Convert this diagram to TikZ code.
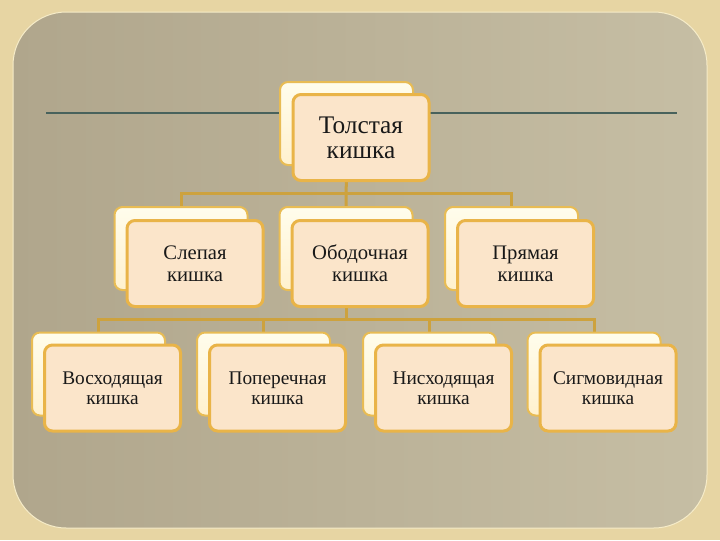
\documentclass[tikz,border=0pt]{standalone}
\usepackage{fontspec}
\setmainfont{Liberation Serif}
\usepackage{xcolor}
\usepackage{tikz}
\usetikzlibrary{calc}

\definecolor{framegold}{RGB}{231,213,163}
\definecolor{panelleft}{RGB}{176,166,140}
\definecolor{panelright}{RGB}{198,190,164}
\definecolor{panelrim}{RGB}{246,236,200}
\definecolor{ruleteal}{RGB}{72,98,92}
\definecolor{linkgold}{RGB}{205,162,62}
\definecolor{cardedge}{RGB}{232,188,84}
\definecolor{cardtop}{RGB}{255,253,236}
\definecolor{cardbot}{RGB}{255,241,206}
\definecolor{faceedge}{RGB}{233,180,72}
\definecolor{facefill}{RGB}{251,229,202}

\pgfdeclarelayer{back}
\pgfdeclarelayer{links}
\pgfsetlayers{back,links,main}

\begin{document}
\begin{tikzpicture}[x=0.75pt, y=-0.75pt,
  card/.style={draw=cardedge, line width=1.5pt, rounded corners=6pt,
    top color=cardtop, bottom color=cardbot,
    minimum width=99.75pt, minimum height=62.25pt, inner sep=0pt},
  face/.style={draw=faceedge, line width=2.25pt, rounded corners=6pt,
    fill=facefill, minimum width=102pt, minimum height=64.5pt,
    inner sep=0pt, align=center, text=black!90},
  small/.style={font=\fontsize{14.5}{15}\selectfont},
  mid/.style={font=\fontsize{15.5}{16.5}\selectfont},
  big/.style={font=\fontsize{19}{19}\selectfont},
  link/.style={draw=linkgold, line width=2.25pt}]
\useasboundingbox (0,0) rectangle (720,540);

% frame and panel
\begin{pgfonlayer}{back}
\fill[framegold] (0,0) rectangle (720,540);
\shade[left color=panelleft, right color=panelright, rounded corners=40pt]
  (13,12) rectangle (707,528);
\draw[panelrim, line width=0.75pt, rounded corners=40pt] (13,12) rectangle (707,528);
\draw[ruleteal, line width=1.5pt] (46,113) -- (677,113);
\end{pgfonlayer}

% top
\node[card] (tk-b) at (346.5,123.5) {};
\node[face,big] (tk) at ([shift={(14.5,14)}]tk-b.center) {Толстая\\кишка};

% second row
\node[card] (sl-b) at (181,248.5) {};
\node[card] (ob-b) at (346,248.5) {};
\node[card] (pr-b) at (511.5,248.5) {};
\node[face,mid] (sl) at ([shift={(14,15)}]sl-b.center) {Слепая\\кишка};
\node[face,mid] (ob) at ([shift={(14,15)}]ob-b.center) {Ободочная\\кишка};
\node[face,mid] (pr) at ([shift={(14,15)}]pr-b.center) {Прямая\\кишка};

% third row
\node[card] (vo-b) at (98.5,374) {};
\node[card] (po-b) at (263.5,374) {};
\node[card] (ni-b) at (429.5,374) {};
\node[card] (si-b) at (594,374) {};
\node[face,small] (vo) at ([shift={(14,14)}]vo-b.center) {Восходящая\\кишка};
\node[face,small] (po) at ([shift={(14,14)}]po-b.center) {Поперечная\\кишка};
\node[face,small] (ni) at ([shift={(14,14)}]ni-b.center) {Нисходящая\\кишка};
\node[face,small] (si) at ([shift={(14,14)}]si-b.center) {Сигмовидная\\кишка};

\coordinate (bus1) at (346,193);
\coordinate (bus2) at (346,319);

\begin{pgfonlayer}{links}
\draw[link] (tk-b.south) -- (ob-b.north);
\draw[link] (sl-b.north) |- (pr-b.north |- bus1) -- (pr-b.north);
\draw[link] (ob-b.south) -- (ob-b.south |- bus2);
\draw[link] (vo-b.north) |- (si-b.north |- bus2) -- (si-b.north);
\draw[link] (po-b.north) -- (po-b.north |- bus2);
\draw[link] (ni-b.north) -- (ni-b.north |- bus2);
\end{pgfonlayer}
\end{tikzpicture}
\end{document}
